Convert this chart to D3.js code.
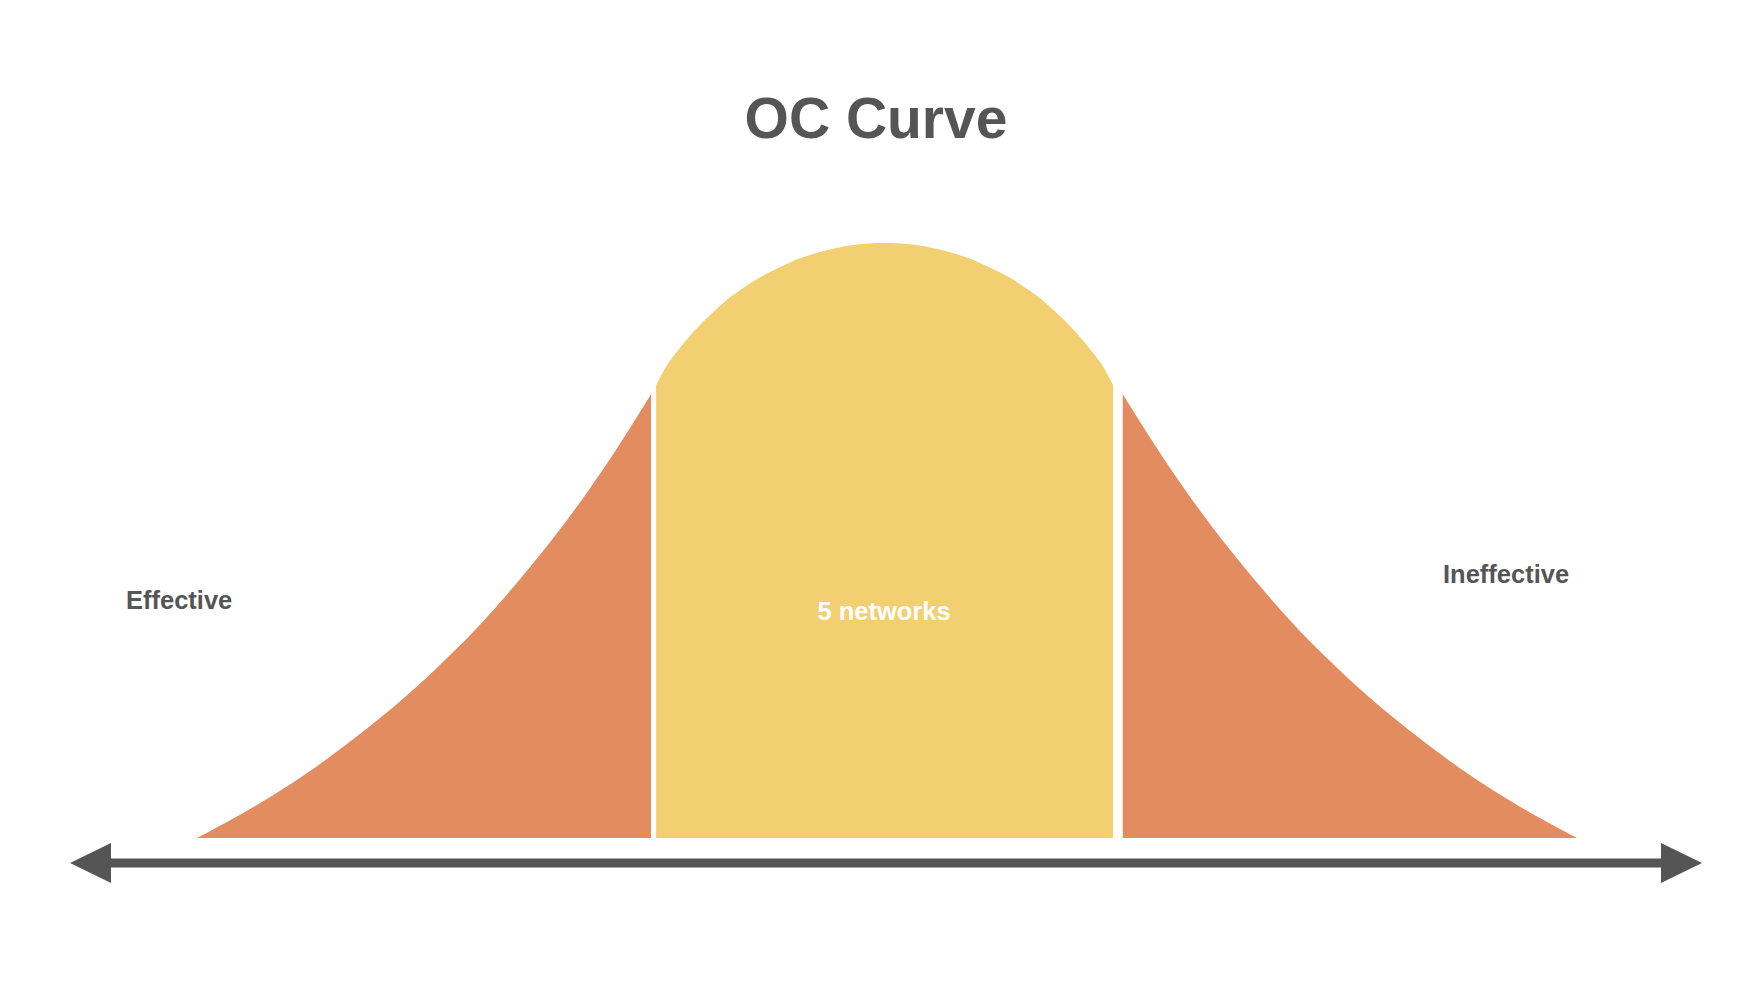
<!DOCTYPE html>
<html><head><meta charset="utf-8">
<script src="https://cdn.jsdelivr.net/npm/d3@7"></script>
<style>html,body{margin:0;padding:0;background:#fff;}svg{display:block;}</style>
</head><body><div id="chart"></div>
<script>
// ---- data ----
const titleText = "OC Curve";
// bell curve samples: x in "sigma" units, y as share of peak height
const curveX = [-3.000,-2.799,-2.596,-2.393,-2.132,-1.935,-1.740,-1.494,-1.291,-1.147,-1.026,
                -1.004,-0.967,-0.928,-0.859,-0.785,-0.707,-0.641,-0.567,-0.493,-0.424,-0.350,-0.280,-0.204,-0.117,-0.011,
                0.096,0.183,0.259,0.328,0.402,0.472,0.546,0.620,0.685,0.763,0.837,0.907,0.946,0.983,
                1.025,1.147,1.291,1.494,1.740,1.935,2.132,2.393,2.596,2.799,3.000];
const curveY = [0,0.042,0.090,0.145,0.225,0.294,0.371,0.483,0.588,0.671,0.746,
                0.761,0.788,0.810,0.843,0.873,0.901,0.920,0.939,0.954,0.967,0.978,0.986,0.993,0.998,1.000,
                0.998,0.993,0.986,0.978,0.967,0.954,0.939,0.920,0.901,0.873,0.843,0.810,0.788,0.761,
                0.746,0.671,0.588,0.483,0.371,0.294,0.225,0.145,0.090,0.042,0];
const zoneNames = ["left", "middle", "right"];
const zoneStart = [-3.000, -1.004, 1.025];
const zoneEnd = [-1.026, 0.983, 3.000];
const sideLabels = ["Effective", "Ineffective"];
const centerLabel = "5 networks";

// ---- styles / layout ----
const W = 1764, H = 984;
const zoneColor = {left: "#E28C60", middle: "#F2D071", right: "#E28C60"};
const textColor = "#555555";
const font = "'Liberation Sans', Arial, Helvetica, sans-serif";

const svg = d3.select("#chart").append("svg").attr("width", W).attr("height", H);

const x = d3.scaleLinear().domain([-3, 3]).range([197, 1577]);
const y = d3.scaleLinear().domain([0, 1]).range([838, 243]);

const pts = curveX.map((v, i) => [v, curveY[i]]);
const area = d3.area()
  .x(d => x(d[0]))
  .y0(y(0))
  .y1(d => y(d[1]))
  .curve(d3.curveNatural);

const zones = zoneNames.map((name, i) => ({
  name,
  points: pts.filter(p => p[0] >= zoneStart[i] - 1e-9 && p[0] <= zoneEnd[i] + 1e-9)
}));

svg.append("g").selectAll("path")
  .data(zones)
  .join("path")
  .attr("d", d => area(d.points))
  .attr("fill", d => zoneColor[d.name]);

// title
svg.append("text")
  .attr("x", 876).attr("y", 138)
  .attr("text-anchor", "middle")
  .attr("font-family", font)
  .attr("font-weight", "bold")
  .attr("font-size", 57)
  .attr("fill", textColor)
  .text(titleText);

// side labels
svg.append("text")
  .attr("x", 126).attr("y", 609)
  .attr("font-family", font)
  .attr("font-weight", "bold").attr("font-size", 25.5)
  .attr("fill", textColor)
  .text(sideLabels[0]);
svg.append("text")
  .attr("x", 1443).attr("y", 583)
  .attr("font-family", font)
  .attr("font-weight", "bold").attr("font-size", 25.5)
  .attr("fill", textColor)
  .text(sideLabels[1]);

// center label
svg.append("text")
  .attr("x", 884).attr("y", 620)
  .attr("text-anchor", "middle")
  .attr("font-family", font)
  .attr("font-weight", "bold").attr("font-size", 25.5)
  .attr("fill", "#ffffff")
  .text(centerLabel);

// double-headed axis arrow
const axisY = 863, tipL = 70, tipR = 1702, head = 41, halfH = 20;
const axisColor = "#555555";
svg.append("line")
  .attr("x1", tipL + head).attr("x2", tipR - head)
  .attr("y1", axisY).attr("y2", axisY)
  .attr("stroke", axisColor).attr("stroke-width", 9);
svg.append("path")
  .attr("d", d3.line()([[tipL, axisY], [tipL + head, axisY - halfH], [tipL + head, axisY + halfH]]) + "Z")
  .attr("fill", axisColor);
svg.append("path")
  .attr("d", d3.line()([[tipR, axisY], [tipR - head, axisY - halfH], [tipR - head, axisY + halfH]]) + "Z")
  .attr("fill", axisColor);
</script>
</body></html>
